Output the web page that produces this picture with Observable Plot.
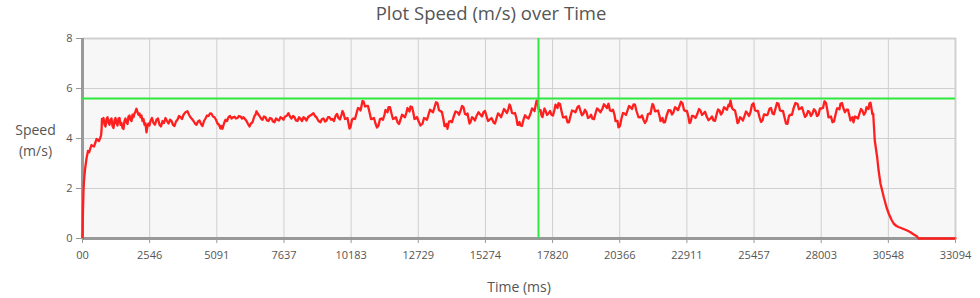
<!DOCTYPE html>
<html>
<head>
<meta charset="utf-8">
<script src="https://cdn.jsdelivr.net/npm/d3@7"></script>
<script src="https://cdn.jsdelivr.net/npm/@observablehq/plot@0.6"></script>
<style>
  html, body { margin: 0; padding: 0; background: #fff; }
  #chart { width: 980px; height: 298px; }
</style>
</head>
<body>
<div id="chart"></div>
<script>
// ---- data ----
const timeMs = [
  0, 19, 38, 57, 95, 152, 208, 303, 379, 493, 569, 682, 720, 758,
  834, 910, 986, 1061, 1137, 1213, 1289, 1365, 1441, 1516, 1592, 1668, 1744, 1820,
  1895, 1971, 2047, 2123, 2199, 2274, 2350, 2426, 2502, 2578, 2691, 2805, 2919, 3033,
  3146, 3260, 3374, 3488, 3601, 3715, 3829, 3980, 4094, 4208, 4322, 4435, 4549, 4663,
  4776, 4890, 5004, 5118, 5231, 5307, 5421, 5535, 5648, 5762, 5876, 5989, 6103, 6217,
  6331, 6444, 6520, 6596, 6710, 6823, 6937, 7051, 7165, 7278, 7392, 7506, 7620, 7733,
  7809, 7923, 8036, 8150, 8264, 8378, 8491, 8605, 8757, 8870, 9022, 9136, 9250, 9363,
  9477, 9591, 9704, 9818, 9894, 10008, 10084, 10159, 10273, 10387, 10501, 10576, 10652, 10766,
  10880, 10993, 11107, 11221, 11334, 11448, 11524, 11600, 11714, 11827, 11941, 12055, 12168, 12282,
  12358, 12434, 12548, 12623, 12737, 12889, 13002, 13116, 13230, 13344, 13457, 13571, 13685, 13761,
  13836, 13950, 14064, 14216, 14329, 14443, 14557, 14632, 14708, 14822, 14936, 15087, 15201, 15315,
  15429, 15580, 15694, 15808, 15921, 16035, 16149, 16225, 16338, 16452, 16528, 16604, 16717, 16831,
  16983, 17097, 17172, 17248, 17324, 17400, 17476, 17551, 17665, 17779, 17893, 17968, 18044, 18158,
  18272, 18385, 18499, 18613, 18764, 18878, 18992, 19106, 19219, 19333, 19447, 19560, 19712, 19826,
  19940, 20053, 20167, 20243, 20319, 20432, 20546, 20660, 20774, 20887, 21001, 21153, 21266, 21380,
  21494, 21570, 21645, 21759, 21873, 21949, 22024, 22138, 22290, 22403, 22517, 22631, 22745, 22858,
  22972, 23048, 23162, 23313, 23427, 23541, 23655, 23806, 23920, 24034, 24147, 24261, 24375, 24489,
  24564, 24678, 24792, 24868, 24981, 25095, 25209, 25322, 25436, 25550, 25664, 25777, 25891, 26043,
  26157, 26270, 26384, 26498, 26611, 26725, 26839, 26953, 27104, 27218, 27332, 27445, 27559, 27673,
  27787, 27900, 28014, 28128, 28242, 28317, 28431, 28545, 28658, 28734, 28848, 28962, 29075, 29151,
  29227, 29341, 29454, 29568, 29682, 29758, 29834, 29909, 29974, 30034, 30125, 30175, 30251, 30376,
  30478, 30566, 30668, 30755, 30857, 30933, 31009, 31123, 31263, 31388, 31513, 31642, 31691, 33094
];
const speedMs = [
  0, 1.2, 1.9, 2.3, 2.75, 3.2, 3.5, 3.62, 3.7, 3.85, 3.95, 4.05, 4.3, 4.68,
  4.55, 4.78, 4.62, 4.75, 4.5, 4.72, 4.6, 4.8, 4.55, 4.42, 4.7, 4.65, 4.88, 4.75,
  4.95, 5.0, 5.19, 4.95, 4.85, 4.7, 4.55, 4.25, 4.6, 4.7, 4.62, 4.75, 4.55, 4.7,
  4.82, 4.6, 4.7, 4.5, 4.75, 4.85, 4.95, 5.09, 4.85, 4.7, 4.55, 4.72, 4.5, 4.8,
  4.9, 4.99, 4.85, 4.6, 4.4, 4.39, 4.75, 4.85, 4.8, 4.87, 4.82, 4.88, 4.85, 4.7,
  4.48, 4.65, 4.9, 5.09, 4.9, 4.75, 4.85, 4.7, 4.8, 4.65, 4.75, 4.85, 4.75, 4.9,
  5.01, 4.8, 4.85, 4.7, 4.79, 4.85, 4.72, 4.9, 5.01, 4.85, 4.65, 4.8, 4.72, 4.85,
  4.78, 4.9, 4.82, 4.95, 5.01, 4.8, 4.6, 4.45, 4.8, 5.0, 5.2, 5.3, 5.49, 5.3,
  5.05, 4.79, 4.6, 4.52, 4.8, 4.95, 5.1, 5.25, 5.0, 4.8, 4.65, 4.75, 4.9, 5.05,
  5.15, 5.28, 5.0, 4.79, 4.7, 4.59, 4.8, 4.95, 5.1, 5.25, 5.41, 5.1, 4.75, 4.5,
  4.39, 4.7, 4.85, 5.05, 5.1, 5.25, 4.95, 4.8, 4.65, 4.8, 4.9, 4.95, 5.05, 4.9,
  4.75, 4.65, 4.8, 4.95, 5.0, 5.1, 5.2, 5.28, 5.0, 4.8, 4.55, 4.52, 4.75, 4.85,
  4.99, 5.15, 5.3, 5.52, 5.1, 4.92, 5.05, 5.12, 5.0, 4.95, 5.15, 5.3, 5.41, 5.1,
  4.85, 4.65, 4.9, 5.1, 5.25, 5.1, 5.0, 5.05, 4.85, 4.79, 5.0, 5.15, 5.2, 5.3,
  5.39, 5.1, 4.95, 4.7, 4.45, 4.8, 5.0, 5.12, 5.25, 5.36, 5.1, 4.85, 4.75, 4.72,
  5.0, 5.2, 5.32, 5.1, 4.9, 4.75, 4.65, 4.9, 5.12, 5.05, 5.2, 5.3, 5.41, 5.1,
  4.85, 4.65, 4.9, 5.0, 5.12, 5.0, 4.9, 4.8, 4.72, 4.95, 5.12, 5.05, 5.2, 5.35,
  5.52, 5.15, 4.85, 4.65, 4.8, 4.9, 5.0, 5.05, 5.41, 5.1, 4.85, 4.72, 4.95, 5.19,
  5.0, 5.2, 5.39, 5.1, 4.85, 4.59, 4.95, 5.2, 5.39, 5.2, 5.05, 4.92, 5.05, 5.0,
  5.1, 4.95, 5.2, 5.49, 5.1, 4.85, 4.65, 4.95, 5.2, 5.39, 5.2, 5.15, 4.9, 4.8,
  4.65, 4.85, 5.0, 5.1, 5.05, 5.2, 5.41, 5.2, 4.99, 3.92, 3.25, 2.75, 2.19, 1.65,
  1.25, 0.99, 0.75, 0.59, 0.5, 0.46, 0.43, 0.38, 0.32, 0.25, 0.16, 0.08, 0, 0
];
// speed read between each sample and the next (null = none visible)
const speedBetween = [
  null, null, null, null, null, null, 3.45, 3.74, 3.68, 3.98, 3.9, 4.12, 4.78, 4.82,
  4.48, 4.85, 4.55, 4.8, 4.42, 4.82, 4.52, 4.82, 4.62, 4.38, 4.8, 4.58, 4.92, 4.7,
  4.85, 5.08, 5.05, 5.0, 4.92, 4.78, 4.6, 4.5, 4.52, 4.82, 4.55, 4.8, 4.48, 4.62,
  4.7, 4.75, 4.55, 4.68, 4.9, 4.78, 5.05, 4.95, 4.78, 4.6, 4.68, 4.58, 4.7, 4.92,
  5.0, 4.88, 4.75, 4.55, 4.5, 4.6, 4.7, 4.9, 4.85, 4.8, 4.9, 4.8, 4.78, 4.58,
  4.6, 4.78, 4.95, 4.98, 4.8, 4.88, 4.72, 4.82, 4.68, 4.8, 4.72, 4.82, 4.88, 4.95,
  4.88, 4.9, 4.72, 4.85, 4.7, 4.8, 4.85, 4.95, 4.9, 4.7, 4.78, 4.68, 4.85, 4.75,
  4.70, 4.98, 4.76, 5.1, 4.78, 4.82, 4.4, 4.75, 4.78, 5.22, 5.12, 5.5, 5.28, 5.3,
  4.78, 4.82, 4.44, 4.78, 4.75, 5.14, 5.05, 5.25, 4.78, 4.85, 4.58, 4.95, 4.85, 5.22,
  5.08, 5.26, 4.78, 4.86, 4.52, 4.82, 4.75, 5.15, 5.05, 5.45, 5.13, 5.05, 4.5, 4.58,
  4.68, 4.65, 5.08, 4.95, 5.3, 4.98, 5.0, 4.6, 4.85, 4.72, 5.05, 4.88, 5.1, 4.7,
  4.82, 4.6, 5.0, 4.85, 5.18, 5.02, 5.36, 5.02, 5.02, 4.55, 4.66, 4.5, 4.93, 4.8,
  5.2, 5.1, 5.5, 5.2, 5.14, 4.86, 5.2, 4.94, 5.1, 4.92, 5.35, 5.22, 5.38, 4.85,
  4.88, 4.65, 5.12, 5.05, 5.3, 4.93, 5.15, 4.82, 4.95, 4.77, 5.2, 5.05, 5.37, 5.22,
  5.12, 5.15, 4.7, 4.7, 4.5, 5.02, 4.94, 5.3, 5.18, 5.35, 4.85, 4.92, 4.62, 4.98,
  4.98, 5.38, 5.09, 5.12, 4.7, 4.82, 4.65, 5.13, 4.96, 5.25, 5.13, 5.47, 5.14, 5.1,
  4.62, 4.9, 4.82, 5.18, 4.94, 5.07, 4.73, 4.88, 4.7, 5.16, 4.96, 5.25, 5.15, 5.3,
  5.22, 5.12, 4.62, 4.85, 4.72, 5.08, 4.9, 5.35, 5.13, 5.1, 4.66, 4.96, 4.94, 5.22,
  4.97, 5.42, 5.12, 5.1, 4.6, 4.9, 4.95, 5.42, 5.17, 5.25, 4.86, 5.1, 4.9, 5.17,
  4.9, 5.2, 5.22, 5.42, 4.85, 4.88, 4.68, 5.2, 5.17, 5.42, 5.05, 5.15, 4.72, 4.85,
  4.88, 4.8, 5.18, 4.95, 5.25, 5.18, 5.43, 4.98, null, null, null, null, null, null,
  null, null, null, null, null, null, null, null, null, null, null, null, null, null
];
const xTickLabels = ["00", "2546", "5091", "7637", "10183", "12729", "15274",
  "17820", "20366", "22911", "25457", "28003", "30548", "33094"];
const xMax = 33094;
const yTicks = [0, 2, 4, 6, 8];
const thresholdSpeed = 5.6;
const markerTime = 17286;
const titleText = "Plot Speed (m/s) over Time";
const xLabelText = "Time (ms)";
const yLabelText = "Speed\n(m/s)";

// ---- build ----
const data = [];
timeMs.forEach((t, i) => {
  data.push({t, v: speedMs[i]});
  const b = speedBetween[i];
  if (b != null && i + 1 < timeMs.length) data.push({t: (t + timeMs[i + 1]) / 2, v: b});
});
const step = xMax / (xTickLabels.length - 1);
const xTicks = xTickLabels.map((_, i) => i * step);
const labelOf = new Map(xTicks.map((t, i) => [t, xTickLabels[i]]));

const font = "'Open Sans', sans-serif";
const chart = Plot.plot({
  width: 980,
  height: 298,
  marginTop: 38,
  marginBottom: 60,
  marginLeft: 82,
  marginRight: 25,
  style: {fontFamily: font, fontSize: "11px", color: "#555", background: "#fff", overflow: "visible"},
  x: {domain: [0, xMax], label: null},
  y: {domain: [0, 8], label: null},
  marks: [
    Plot.frame({fill: "#f7f7f7", stroke: "#aaa", strokeWidth: 1.5}),
    Plot.gridX(xTicks, {stroke: "#cfcfcf", strokeOpacity: 1, strokeWidth: 1}),
    Plot.gridY(yTicks, {stroke: "#cfcfcf", strokeOpacity: 1, strokeWidth: 1}),
    Plot.ruleX([0], {stroke: "#999", strokeWidth: 3}),
    Plot.ruleY([0], {stroke: "#999", strokeWidth: 3}),
    Plot.line(data, {x: "t", y: "v", stroke: "#ff1f1f", strokeWidth: 2.3}),
    Plot.ruleY([thresholdSpeed], {stroke: "#2ee83d", strokeWidth: 2}),
    Plot.ruleX([markerTime], {stroke: "#2ee83d", strokeWidth: 2}),
    Plot.axisX(xTicks, {tickFormat: d => labelOf.get(d), tickSize: 5, tickPadding: 8, stroke: "#999", fill: "#555", fontSize: 11, label: null}),
    Plot.axisY(yTicks, {tickSize: 6, tickPadding: 4, stroke: "#999", fill: "#555", fontSize: 11, label: null}),
    Plot.text([titleText], {frameAnchor: "top", dx: -28, dy: -24, fontSize: 18.5, fill: "#555", lineAnchor: "middle"}),
    Plot.text([xLabelText], {frameAnchor: "bottom", dy: 49, fontSize: 14, fill: "#555", lineAnchor: "middle"}),
    Plot.text([yLabelText], {frameAnchor: "left", dx: -47, fontSize: 14, fill: "#555", textAnchor: "middle", lineAnchor: "middle", lineHeight: 1.5})
  ]
});
document.getElementById("chart").appendChild(chart);
</script>
</body>
</html>
